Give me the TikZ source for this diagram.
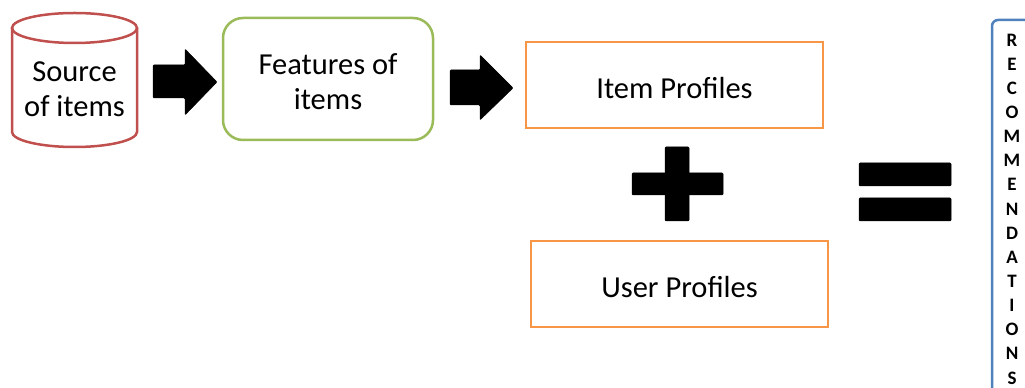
\documentclass[tikz,border=0pt]{standalone}
\usepackage{fontspec}
\setmainfont{Carlito}
\definecolor{cred}{HTML}{C0504D}
\definecolor{cgreen}{HTML}{9BBB59}
\definecolor{corange}{HTML}{F79646}
\definecolor{cblue}{HTML}{4F81BD}
\begin{document}
\begin{tikzpicture}[x=1pt,y=1pt,
  boxline/.style={line width=2.5pt},
  lbl/.style={font=\fontsize{30.5}{35}\selectfont, align=center, inner sep=0pt},
  blk/.style={fill=black, draw=black, line width=0.5pt, rounded corners=1pt},
  letter/.style={font=\fontsize{19}{22}\selectfont\bfseries, inner sep=0pt}]
\useasboundingbox (0,0) rectangle (1025,388);
\clip (0,0) rectangle (1025,388);
% cylinder
\draw[boxline, cred] (12,360) -- (12,256) arc[start angle=180,end angle=360,x radius=62.5,y radius=15] -- (137,360);
\draw[boxline, cred] (74.5,360) ellipse[x radius=62.5,y radius=15];
\node[lbl] (src) at (74.5,299) {Source\\of items};
% arrow 1
\fill[blk] (153,323) -- (185,323) -- (185,339) -- (217,306) -- (185,273) -- (185,290) -- (153,290) -- cycle;
% features box
\draw[boxline, cgreen, rounded corners=20pt] (223,370) rectangle (433,248);
\node[lbl] (feat) at (328,306) {Features of\\items};
% arrow 2
\fill[blk] (450,318) -- (480,318) -- (480,333) -- (513,300) -- (480,268) -- (480,283) -- (450,283) -- cycle;
% item profiles
\draw[boxline, corange] (526,346) rectangle (823,260);
\node[lbl] (item) at (674.5,300) {Item Profiles};
% plus
\fill[blk] (632,215) rectangle (723,193);
\fill[blk] (665,241) rectangle (689,167);
% equals
\fill[blk] (859,225) rectangle (951,202);
\fill[blk] (859,190) rectangle (951,167);
% user profiles
\draw[boxline, corange] (531,147) rectangle (828,61);
\node[lbl] (user) at (679.5,101) {User Profiles};
% recommendations
\draw[boxline, cblue, rounded corners=6pt] (992,-20) -- (992,368) -- (1045,368);
\foreach \c [count=\i from 0] in {R,E,C,O,M,M,E,N,D,A,T,I,O,N,S}
  \node[letter] (r\i) at (1012,348-24.14*\i) {\c};
\end{tikzpicture}
\end{document}
